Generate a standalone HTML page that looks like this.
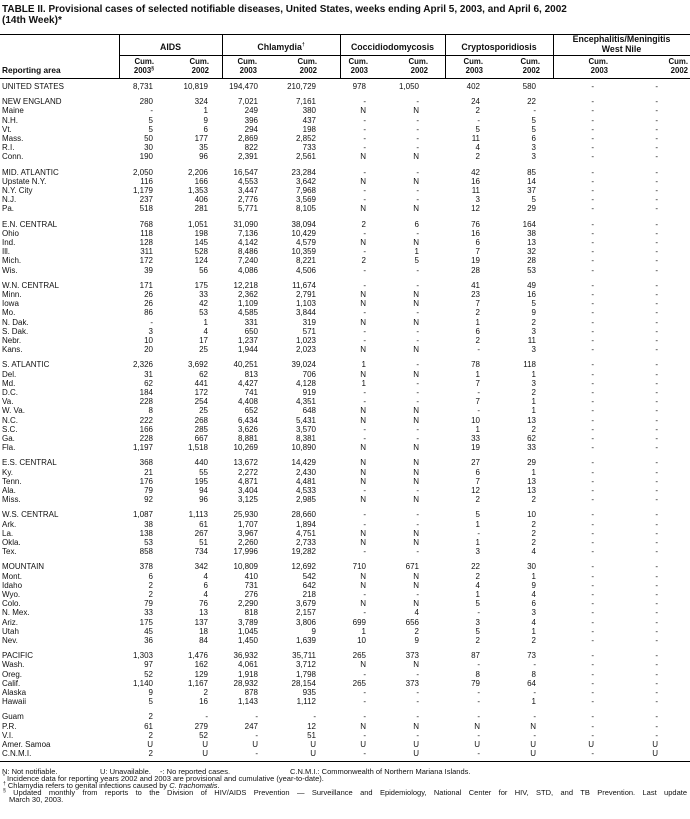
<!DOCTYPE html>
<html><head><meta charset="utf-8"><style>
*{margin:0;padding:0}
body{width:690px;height:819px;background:#fff;position:relative;overflow:hidden;font-family:"Liberation Sans",Arial,sans-serif;color:#111}
.t{position:absolute;left:2px;font-weight:bold;font-size:10px;white-space:nowrap}
.ln{position:absolute;background:#000}
.g{position:absolute;font-weight:bold;font-size:8.8px;text-align:center;line-height:9.5px}
.h{position:absolute;font-weight:bold;font-size:7.8px;text-align:right;line-height:8.5px}
.r{position:absolute;left:0;width:690px;height:10px;line-height:10px;font-size:8px;white-space:nowrap}
.r b{position:absolute;left:2px;font-weight:normal}
.r i{position:absolute;font-style:normal;text-align:right}
.r i:nth-child(2){right:537px}.r i:nth-child(3){right:482px}.r i:nth-child(4){right:432px}.r i:nth-child(5){right:374px}
.r i:nth-child(6){right:324px}.r i:nth-child(7){right:271px}.r i:nth-child(8){right:210px}.r i:nth-child(9){right:154px}
.r i:nth-child(10){right:96px}.r i:nth-child(11){right:32px}
.f{position:absolute;font-size:7.5px;white-space:nowrap;line-height:8px}
sup{font-size:5px;vertical-align:top;line-height:5px}
</style></head><body>
<div class="t" style="top:4px">TABLE II. Provisional cases of selected notifiable diseases, United States, weeks ending April 5, 2003, and April 6, 2002</div>
<div class="t" style="top:15px">(14th Week)*</div>
<div class="ln" style="left:0;top:34px;width:690px;height:1px"></div>
<div class="ln" style="left:119px;top:55px;width:571px;height:1px"></div>
<div class="ln" style="left:0;top:78px;width:690px;height:1px"></div>
<div class="ln" style="left:119px;top:34px;width:1px;height:44px"></div>
<div class="ln" style="left:222px;top:34px;width:1px;height:44px"></div>
<div class="ln" style="left:340px;top:34px;width:1px;height:44px"></div>
<div class="ln" style="left:445px;top:34px;width:1px;height:44px"></div>
<div class="ln" style="left:553px;top:34px;width:1px;height:44px"></div>
<div class="g" style="left:119px;width:103px;top:43px">AIDS</div>
<div class="g" style="left:222px;width:118px;top:43px">Chlamydia<sup>†</sup></div>
<div class="g" style="left:340px;width:105px;top:43px">Coccidiodomycosis</div>
<div class="g" style="left:445px;width:108px;top:43px">Cryptosporidiosis</div>
<div class="g" style="left:553px;width:137px;top:35px">Encephalitis/Meningitis<br>West Nile</div>
<div class="h" style="left:0;top:66px;text-align:left;font-size:8.3px;left:2px">Reporting area</div>
<div class="h" style="right:536px;top:58px">Cum.<br>2003<sup>§</sup></div>
<div class="h" style="right:481px;top:58px">Cum.<br>2002</div>
<div class="h" style="right:433px;top:58px">Cum.<br>2003</div>
<div class="h" style="right:373px;top:58px">Cum.<br>2002</div>
<div class="h" style="right:322px;top:58px">Cum.<br>2003</div>
<div class="h" style="right:262px;top:58px">Cum.<br>2002</div>
<div class="h" style="right:207px;top:58px">Cum.<br>2003</div>
<div class="h" style="right:150px;top:58px">Cum.<br>2002</div>
<div class="h" style="right:82px;top:58px">Cum.<br>2003</div>
<div class="h" style="right:2px;top:58px">Cum.<br>2002</div>

<div class="r" style="top:82px"><b>UNITED STATES</b><i>8,731</i><i>10,819</i><i>194,470</i><i>210,729</i><i>978</i><i>1,050</i><i>402</i><i>580</i><i>-</i><i>-</i></div>
<div class="r" style="top:97.2px"><b>NEW ENGLAND</b><i>280</i><i>324</i><i>7,021</i><i>7,161</i><i>-</i><i>-</i><i>24</i><i>22</i><i>-</i><i>-</i></div>
<div class="r" style="top:106.4px"><b>Maine</b><i>-</i><i>1</i><i>249</i><i>380</i><i>N</i><i>N</i><i>2</i><i>-</i><i>-</i><i>-</i></div>
<div class="r" style="top:115.6px"><b>N.H.</b><i>5</i><i>9</i><i>396</i><i>437</i><i>-</i><i>-</i><i>-</i><i>5</i><i>-</i><i>-</i></div>
<div class="r" style="top:124.8px"><b>Vt.</b><i>5</i><i>6</i><i>294</i><i>198</i><i>-</i><i>-</i><i>5</i><i>5</i><i>-</i><i>-</i></div>
<div class="r" style="top:134px"><b>Mass.</b><i>50</i><i>177</i><i>2,869</i><i>2,852</i><i>-</i><i>-</i><i>11</i><i>6</i><i>-</i><i>-</i></div>
<div class="r" style="top:143.2px"><b>R.I.</b><i>30</i><i>35</i><i>822</i><i>733</i><i>-</i><i>-</i><i>4</i><i>3</i><i>-</i><i>-</i></div>
<div class="r" style="top:152.4px"><b>Conn.</b><i>190</i><i>96</i><i>2,391</i><i>2,561</i><i>N</i><i>N</i><i>2</i><i>3</i><i>-</i><i>-</i></div>
<div class="r" style="top:167.6px"><b>MID. ATLANTIC</b><i>2,050</i><i>2,206</i><i>16,547</i><i>23,284</i><i>-</i><i>-</i><i>42</i><i>85</i><i>-</i><i>-</i></div>
<div class="r" style="top:176.8px"><b>Upstate N.Y.</b><i>116</i><i>166</i><i>4,553</i><i>3,642</i><i>N</i><i>N</i><i>16</i><i>14</i><i>-</i><i>-</i></div>
<div class="r" style="top:186px"><b>N.Y. City</b><i>1,179</i><i>1,353</i><i>3,447</i><i>7,968</i><i>-</i><i>-</i><i>11</i><i>37</i><i>-</i><i>-</i></div>
<div class="r" style="top:195.2px"><b>N.J.</b><i>237</i><i>406</i><i>2,776</i><i>3,569</i><i>-</i><i>-</i><i>3</i><i>5</i><i>-</i><i>-</i></div>
<div class="r" style="top:204.4px"><b>Pa.</b><i>518</i><i>281</i><i>5,771</i><i>8,105</i><i>N</i><i>N</i><i>12</i><i>29</i><i>-</i><i>-</i></div>
<div class="r" style="top:219.6px"><b>E.N. CENTRAL</b><i>768</i><i>1,051</i><i>31,090</i><i>38,094</i><i>2</i><i>6</i><i>76</i><i>164</i><i>-</i><i>-</i></div>
<div class="r" style="top:228.8px"><b>Ohio</b><i>118</i><i>198</i><i>7,136</i><i>10,429</i><i>-</i><i>-</i><i>16</i><i>38</i><i>-</i><i>-</i></div>
<div class="r" style="top:238px"><b>Ind.</b><i>128</i><i>145</i><i>4,142</i><i>4,579</i><i>N</i><i>N</i><i>6</i><i>13</i><i>-</i><i>-</i></div>
<div class="r" style="top:247.2px"><b>Ill.</b><i>311</i><i>528</i><i>8,486</i><i>10,359</i><i>-</i><i>1</i><i>7</i><i>32</i><i>-</i><i>-</i></div>
<div class="r" style="top:256.4px"><b>Mich.</b><i>172</i><i>124</i><i>7,240</i><i>8,221</i><i>2</i><i>5</i><i>19</i><i>28</i><i>-</i><i>-</i></div>
<div class="r" style="top:265.6px"><b>Wis.</b><i>39</i><i>56</i><i>4,086</i><i>4,506</i><i>-</i><i>-</i><i>28</i><i>53</i><i>-</i><i>-</i></div>
<div class="r" style="top:280.8px"><b>W.N. CENTRAL</b><i>171</i><i>175</i><i>12,218</i><i>11,674</i><i>-</i><i>-</i><i>41</i><i>49</i><i>-</i><i>-</i></div>
<div class="r" style="top:290px"><b>Minn.</b><i>26</i><i>33</i><i>2,362</i><i>2,791</i><i>N</i><i>N</i><i>23</i><i>16</i><i>-</i><i>-</i></div>
<div class="r" style="top:299.2px"><b>Iowa</b><i>26</i><i>42</i><i>1,109</i><i>1,103</i><i>N</i><i>N</i><i>7</i><i>5</i><i>-</i><i>-</i></div>
<div class="r" style="top:308.4px"><b>Mo.</b><i>86</i><i>53</i><i>4,585</i><i>3,844</i><i>-</i><i>-</i><i>2</i><i>9</i><i>-</i><i>-</i></div>
<div class="r" style="top:317.6px"><b>N. Dak.</b><i>-</i><i>1</i><i>331</i><i>319</i><i>N</i><i>N</i><i>1</i><i>2</i><i>-</i><i>-</i></div>
<div class="r" style="top:326.8px"><b>S. Dak.</b><i>3</i><i>4</i><i>650</i><i>571</i><i>-</i><i>-</i><i>6</i><i>3</i><i>-</i><i>-</i></div>
<div class="r" style="top:336px"><b>Nebr.</b><i>10</i><i>17</i><i>1,237</i><i>1,023</i><i>-</i><i>-</i><i>2</i><i>11</i><i>-</i><i>-</i></div>
<div class="r" style="top:345.2px"><b>Kans.</b><i>20</i><i>25</i><i>1,944</i><i>2,023</i><i>N</i><i>N</i><i>-</i><i>3</i><i>-</i><i>-</i></div>
<div class="r" style="top:360.4px"><b>S. ATLANTIC</b><i>2,326</i><i>3,692</i><i>40,251</i><i>39,024</i><i>1</i><i>-</i><i>78</i><i>118</i><i>-</i><i>-</i></div>
<div class="r" style="top:369.6px"><b>Del.</b><i>31</i><i>62</i><i>813</i><i>706</i><i>N</i><i>N</i><i>1</i><i>1</i><i>-</i><i>-</i></div>
<div class="r" style="top:378.8px"><b>Md.</b><i>62</i><i>441</i><i>4,427</i><i>4,128</i><i>1</i><i>-</i><i>7</i><i>3</i><i>-</i><i>-</i></div>
<div class="r" style="top:388px"><b>D.C.</b><i>184</i><i>172</i><i>741</i><i>919</i><i>-</i><i>-</i><i>-</i><i>2</i><i>-</i><i>-</i></div>
<div class="r" style="top:397.2px"><b>Va.</b><i>228</i><i>254</i><i>4,408</i><i>4,351</i><i>-</i><i>-</i><i>7</i><i>1</i><i>-</i><i>-</i></div>
<div class="r" style="top:406.4px"><b>W. Va.</b><i>8</i><i>25</i><i>652</i><i>648</i><i>N</i><i>N</i><i>-</i><i>1</i><i>-</i><i>-</i></div>
<div class="r" style="top:415.6px"><b>N.C.</b><i>222</i><i>268</i><i>6,434</i><i>5,431</i><i>N</i><i>N</i><i>10</i><i>13</i><i>-</i><i>-</i></div>
<div class="r" style="top:424.8px"><b>S.C.</b><i>166</i><i>285</i><i>3,626</i><i>3,570</i><i>-</i><i>-</i><i>1</i><i>2</i><i>-</i><i>-</i></div>
<div class="r" style="top:434px"><b>Ga.</b><i>228</i><i>667</i><i>8,881</i><i>8,381</i><i>-</i><i>-</i><i>33</i><i>62</i><i>-</i><i>-</i></div>
<div class="r" style="top:443.2px"><b>Fla.</b><i>1,197</i><i>1,518</i><i>10,269</i><i>10,890</i><i>N</i><i>N</i><i>19</i><i>33</i><i>-</i><i>-</i></div>
<div class="r" style="top:458.4px"><b>E.S. CENTRAL</b><i>368</i><i>440</i><i>13,672</i><i>14,429</i><i>N</i><i>N</i><i>27</i><i>29</i><i>-</i><i>-</i></div>
<div class="r" style="top:467.6px"><b>Ky.</b><i>21</i><i>55</i><i>2,272</i><i>2,430</i><i>N</i><i>N</i><i>6</i><i>1</i><i>-</i><i>-</i></div>
<div class="r" style="top:476.8px"><b>Tenn.</b><i>176</i><i>195</i><i>4,871</i><i>4,481</i><i>N</i><i>N</i><i>7</i><i>13</i><i>-</i><i>-</i></div>
<div class="r" style="top:486px"><b>Ala.</b><i>79</i><i>94</i><i>3,404</i><i>4,533</i><i>-</i><i>-</i><i>12</i><i>13</i><i>-</i><i>-</i></div>
<div class="r" style="top:495.2px"><b>Miss.</b><i>92</i><i>96</i><i>3,125</i><i>2,985</i><i>N</i><i>N</i><i>2</i><i>2</i><i>-</i><i>-</i></div>
<div class="r" style="top:510.4px"><b>W.S. CENTRAL</b><i>1,087</i><i>1,113</i><i>25,930</i><i>28,660</i><i>-</i><i>-</i><i>5</i><i>10</i><i>-</i><i>-</i></div>
<div class="r" style="top:519.6px"><b>Ark.</b><i>38</i><i>61</i><i>1,707</i><i>1,894</i><i>-</i><i>-</i><i>1</i><i>2</i><i>-</i><i>-</i></div>
<div class="r" style="top:528.8px"><b>La.</b><i>138</i><i>267</i><i>3,967</i><i>4,751</i><i>N</i><i>N</i><i>-</i><i>2</i><i>-</i><i>-</i></div>
<div class="r" style="top:538px"><b>Okla.</b><i>53</i><i>51</i><i>2,260</i><i>2,733</i><i>N</i><i>N</i><i>1</i><i>2</i><i>-</i><i>-</i></div>
<div class="r" style="top:547.2px"><b>Tex.</b><i>858</i><i>734</i><i>17,996</i><i>19,282</i><i>-</i><i>-</i><i>3</i><i>4</i><i>-</i><i>-</i></div>
<div class="r" style="top:562.4px"><b>MOUNTAIN</b><i>378</i><i>342</i><i>10,809</i><i>12,692</i><i>710</i><i>671</i><i>22</i><i>30</i><i>-</i><i>-</i></div>
<div class="r" style="top:571.6px"><b>Mont.</b><i>6</i><i>4</i><i>410</i><i>542</i><i>N</i><i>N</i><i>2</i><i>1</i><i>-</i><i>-</i></div>
<div class="r" style="top:580.8px"><b>Idaho</b><i>2</i><i>6</i><i>731</i><i>642</i><i>N</i><i>N</i><i>4</i><i>9</i><i>-</i><i>-</i></div>
<div class="r" style="top:590px"><b>Wyo.</b><i>2</i><i>4</i><i>276</i><i>218</i><i>-</i><i>-</i><i>1</i><i>4</i><i>-</i><i>-</i></div>
<div class="r" style="top:599.2px"><b>Colo.</b><i>79</i><i>76</i><i>2,290</i><i>3,679</i><i>N</i><i>N</i><i>5</i><i>6</i><i>-</i><i>-</i></div>
<div class="r" style="top:608.4px"><b>N. Mex.</b><i>33</i><i>13</i><i>818</i><i>2,157</i><i>-</i><i>4</i><i>-</i><i>3</i><i>-</i><i>-</i></div>
<div class="r" style="top:617.6px"><b>Ariz.</b><i>175</i><i>137</i><i>3,789</i><i>3,806</i><i>699</i><i>656</i><i>3</i><i>4</i><i>-</i><i>-</i></div>
<div class="r" style="top:626.8px"><b>Utah</b><i>45</i><i>18</i><i>1,045</i><i>9</i><i>1</i><i>2</i><i>5</i><i>1</i><i>-</i><i>-</i></div>
<div class="r" style="top:636px"><b>Nev.</b><i>36</i><i>84</i><i>1,450</i><i>1,639</i><i>10</i><i>9</i><i>2</i><i>2</i><i>-</i><i>-</i></div>
<div class="r" style="top:651.2px"><b>PACIFIC</b><i>1,303</i><i>1,476</i><i>36,932</i><i>35,711</i><i>265</i><i>373</i><i>87</i><i>73</i><i>-</i><i>-</i></div>
<div class="r" style="top:660.4px"><b>Wash.</b><i>97</i><i>162</i><i>4,061</i><i>3,712</i><i>N</i><i>N</i><i>-</i><i>-</i><i>-</i><i>-</i></div>
<div class="r" style="top:669.6px"><b>Oreg.</b><i>52</i><i>129</i><i>1,918</i><i>1,798</i><i>-</i><i>-</i><i>8</i><i>8</i><i>-</i><i>-</i></div>
<div class="r" style="top:678.8px"><b>Calif.</b><i>1,140</i><i>1,167</i><i>28,932</i><i>28,154</i><i>265</i><i>373</i><i>79</i><i>64</i><i>-</i><i>-</i></div>
<div class="r" style="top:688px"><b>Alaska</b><i>9</i><i>2</i><i>878</i><i>935</i><i>-</i><i>-</i><i>-</i><i>-</i><i>-</i><i>-</i></div>
<div class="r" style="top:697.2px"><b>Hawaii</b><i>5</i><i>16</i><i>1,143</i><i>1,112</i><i>-</i><i>-</i><i>-</i><i>1</i><i>-</i><i>-</i></div>
<div class="r" style="top:712.4px"><b>Guam</b><i>2</i><i>-</i><i>-</i><i>-</i><i>-</i><i>-</i><i>-</i><i>-</i><i>-</i><i>-</i></div>
<div class="r" style="top:721.6px"><b>P.R.</b><i>61</i><i>279</i><i>247</i><i>12</i><i>N</i><i>N</i><i>N</i><i>N</i><i>-</i><i>-</i></div>
<div class="r" style="top:730.8px"><b>V.I.</b><i>2</i><i>52</i><i>-</i><i>51</i><i>-</i><i>-</i><i>-</i><i>-</i><i>-</i><i>-</i></div>
<div class="r" style="top:740px"><b>Amer. Samoa</b><i>U</i><i>U</i><i>U</i><i>U</i><i>U</i><i>U</i><i>U</i><i>U</i><i>U</i><i>U</i></div>
<div class="r" style="top:749.2px"><b>C.N.M.I.</b><i>2</i><i>U</i><i>-</i><i>U</i><i>-</i><i>U</i><i>-</i><i>U</i><i>-</i><i>U</i></div>
<div class="ln" style="left:0;top:761px;width:690px;height:1px"></div>

<div class="f" style="left:2px;top:768px">N: Not notifiable.</div>
<div class="f" style="left:100px;top:768px">U: Unavailable.</div>
<div class="f" style="left:160px;top:768px">-: No reported cases.</div>
<div class="f" style="left:290px;top:768px">C.N.M.I.: Commonwealth of Northern Mariana Islands.</div>
<div class="f" style="left:3px;top:775px"><sup>*</sup> Incidence data for reporting years 2002 and 2003 are provisional and cumulative (year-to-date).</div>
<div class="f" style="left:3px;top:782px"><sup>†</sup> Chlamydia refers to genital infections caused by <i>C. trachomatis</i>.</div>
<div class="f" style="left:3px;top:789px;width:684px;text-align:justify;text-align-last:justify"><sup>§</sup> Updated monthly from reports to the Division of HIV/AIDS Prevention — Surveillance and Epidemiology, National Center for HIV, STD, and TB Prevention. Last update</div>
<div class="f" style="left:9px;top:796px">March 30, 2003.</div>
</body></html>
